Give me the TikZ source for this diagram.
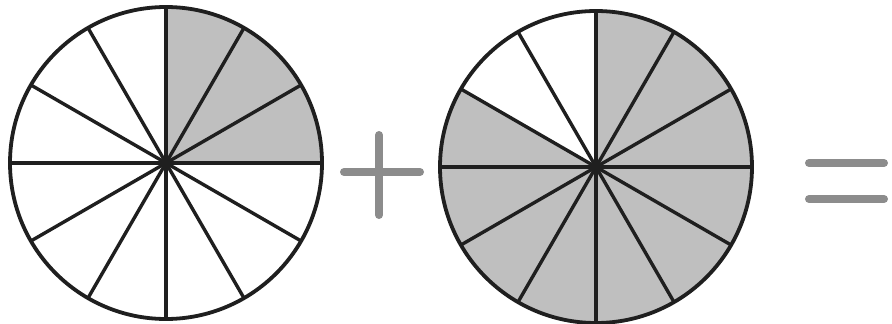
\documentclass[tikz,border=0pt]{standalone}
\begin{document}
\begin{tikzpicture}[x=1pt,y=-1pt,
  spoke/.style={draw=black!88,line width=3.4pt},
  rim/.style={draw=black!88,line width=3.8pt},
  shade/.style={fill=black!25},
  sym/.style={draw=black!45,line width=8pt,line cap=round}]
\useasboundingbox (0,0) rectangle (892,324);
% left circle: 3 of 12 shaded
\coordinate (L) at (166,163);
\fill[shade] (L) -- ++(-90:156) arc[start angle=-90,end angle=0,radius=156] -- cycle;
\foreach \a in {0,30,...,330} \draw[spoke] (L) -- ++(\a:156);
\draw[rim] (L) circle[radius=156];
\fill[black!88] (L) circle[radius=6];
% right circle: 10 of 12 shaded
\coordinate (R) at (596,167);
\fill[shade] (R) -- ++(-90:156) arc[start angle=-90,end angle=210,radius=156] -- cycle;
\foreach \a in {0,30,...,330} \draw[spoke] (R) -- ++(\a:156);
\draw[rim] (R) circle[radius=156];
\fill[black!88] (R) circle[radius=6];
% plus
\draw[sym] (344,172) -- (420,172);
\draw[sym] (379,135) -- (379,215);
% equals
\draw[sym] (809,163) -- (884,163);
\draw[sym] (809,199) -- (884,199);
\end{tikzpicture}
\end{document}
